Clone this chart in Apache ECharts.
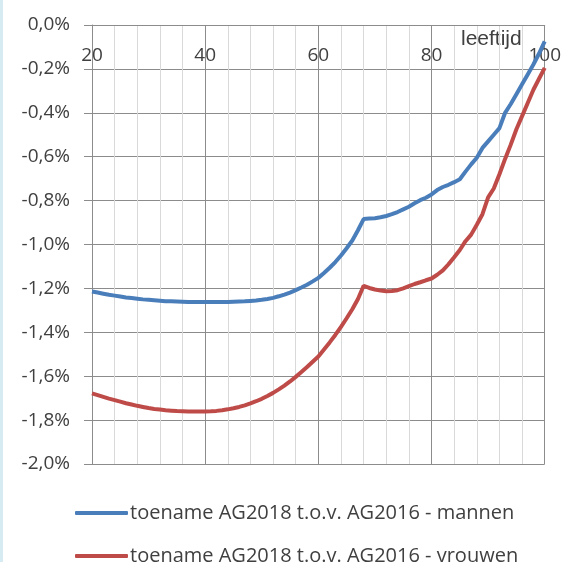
<!DOCTYPE html>
<html><head><meta charset="utf-8">
<script src="https://cdn.jsdelivr.net/npm/echarts@6/dist/echarts.min.js"></script>
<style>html,body{margin:0;padding:0;background:#fff}#c{width:564px;height:562px}</style>
</head><body><div id="c"></div>
<script>
var ages = [];
for (var a = 20; a <= 100; a++) ages.push(a);
var mannen = [-1.214,-1.219,-1.224,-1.229,-1.233,-1.237,-1.241,-1.244,-1.247,-1.250,
-1.252,-1.254,-1.256,-1.258,-1.259,-1.260,-1.261,-1.262,-1.262,-1.262,
-1.262,-1.262,-1.262,-1.262,-1.262,-1.261,-1.260,-1.259,-1.257,-1.255,
-1.252,-1.248,-1.243,-1.236,-1.228,-1.219,-1.208,-1.196,-1.183,-1.168,
-1.152,-1.130,-1.106,-1.080,-1.050,-1.017,-0.982,-0.935,-0.884,-0.882,
-0.880,-0.876,-0.870,-0.862,-0.852,-0.840,-0.828,-0.812,-0.798,-0.787,
-0.772,-0.752,-0.738,-0.728,-0.716,-0.703,-0.668,-0.635,-0.605,-0.560,
-0.530,-0.500,-0.470,-0.400,-0.360,-0.315,-0.270,-0.225,-0.180,-0.130,-0.075];
var vrouwen = [-1.678,-1.686,-1.694,-1.702,-1.709,-1.716,-1.723,-1.729,-1.735,-1.740,
-1.745,-1.749,-1.752,-1.755,-1.757,-1.759,-1.760,-1.761,-1.761,-1.761,
-1.761,-1.760,-1.758,-1.755,-1.751,-1.746,-1.740,-1.733,-1.724,-1.714,
-1.703,-1.690,-1.676,-1.660,-1.643,-1.624,-1.603,-1.581,-1.558,-1.534,
-1.510,-1.478,-1.446,-1.412,-1.375,-1.336,-1.295,-1.248,-1.188,-1.198,
-1.205,-1.210,-1.213,-1.212,-1.208,-1.200,-1.190,-1.180,-1.172,-1.163,
-1.155,-1.138,-1.118,-1.090,-1.058,-1.025,-0.985,-0.955,-0.910,-0.862,
-0.785,-0.745,-0.680,-0.610,-0.545,-0.475,-0.415,-0.355,-0.295,-0.245,-0.195];
var seriesNames = ['toename AG2018 t.o.v. AG2016 - mannen','toename AG2018 t.o.v. AG2016 - vrouwen'];
var axisTitle = 'leeftijd';

function pairs(v){ return ages.map(function(a,i){ return [a, v[i]]; }); }

var chart = echarts.init(document.getElementById('c'));
var txt = '#404040';
var font = 'Open Sans';
function legendFor(name, top){
  return {
    orient: 'horizontal', left: 75, top: top, itemGap: 0, padding: 0,
    itemWidth: 53, itemHeight: 4, icon: 'roundRect',
    textStyle: {color: txt, fontSize: 20, fontFamily: font, padding: [0,0,0,-3]},
    data: [name]
  };
}
chart.setOption({
  backgroundColor: '#fff',
  animation: false,
  grid: {left: 92, top: 25, right: 16, bottom: 98, containLabel: false},
  xAxis: {
    type: 'value', min: 20, max: 100, interval: 20, position: 'top',
    axisLine: {show: true, onZero: false, lineStyle: {color: '#8c8c8c', width: 1}},
    axisTick: {show: false},
    axisLabel: {inside: true, margin: 21, color: txt, fontSize: 19, fontFamily: font},
    splitLine: {show: true, lineStyle: {color: '#8c8c8c', width: 1}},
    minorTick: {show: false, splitNumber: 5},
    minorSplitLine: {show: true, lineStyle: {color: '#d9d9d9', width: 1}}
  },
  yAxis: {
    type: 'value', min: -2, max: 0, interval: 0.2,
    axisLine: {show: true, onZero: false, lineStyle: {color: '#8c8c8c', width: 1}},
    axisTick: {show: true, length: 8, lineStyle: {color: '#8c8c8c'}},
    axisLabel: {margin: 22, color: txt, fontSize: 19, fontFamily: font,
      formatter: function(v){ return v.toFixed(1).replace('.', ',') + '%'; }},
    splitLine: {show: true, lineStyle: {color: '#8c8c8c', width: 1}}
  },
  legend: [legendFor(seriesNames[0], 503), legendFor(seriesNames[1], 546)],
  graphic: [
    {type: 'rect', left: 0, top: 0, shape: {width: 3, height: 562}, style: {fill: '#d7ebf2'}},
    {type: 'text', left: 461, top: 29, style: {text: axisTitle, fill: txt, font: '21px "Liberation Sans"'}}
  ],
  series: [
    {name: seriesNames[0], type: 'line', data: pairs(mannen), showSymbol: false, smooth: false,
     lineStyle: {color: '#4a7ebb', width: 4}, itemStyle: {color: '#4a7ebb'}},
    {name: seriesNames[1], type: 'line', data: pairs(vrouwen), showSymbol: false, smooth: false,
     lineStyle: {color: '#be4b48', width: 4}, itemStyle: {color: '#be4b48'}}
  ]
});
</script></body></html>
